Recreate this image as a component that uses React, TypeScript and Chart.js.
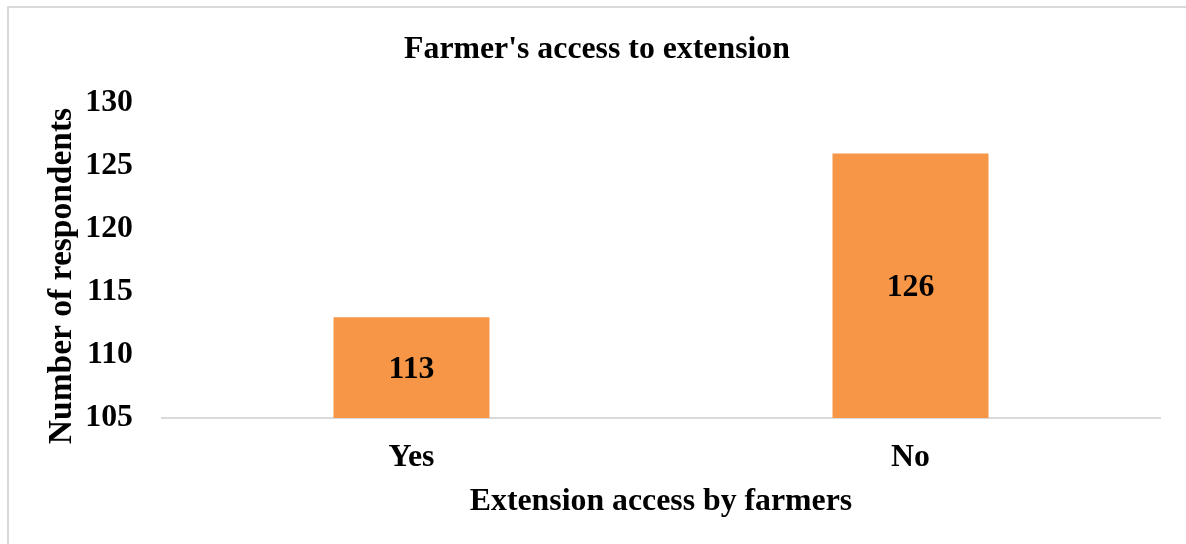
import React, { useEffect, useRef } from "react";
import { Chart, registerables } from "chart.js";

Chart.register(...registerables);

const categories: string[] = ["Yes", "No"];
const respondents: number[] = [113, 126];
const yTicksMin = 105;
const yTicksMax = 130;
const yTickStep = 5;
const chartTitle = "Farmer's access to extension";
const xAxisTitle = "Extension access by farmers";
const yAxisTitle = "Number of respondents";

const FONT = "'Liberation Serif', 'Times New Roman', serif";
const FS = 31.8;

const valueLabels = {
  id: "valueLabels",
  afterDraw(chart: any) {
    const ctx = chart.ctx;
    const meta = chart.getDatasetMeta(0);
    const yScale = chart.scales.y;
    const basePx = yScale.getPixelForValue(yTicksMin);
    ctx.save();
    ctx.font = `bold ${FS}px ${FONT}`;
    ctx.fillStyle = "#000000";
    ctx.textAlign = "center";
    ctx.textBaseline = "middle";
    meta.data.forEach((el: any, i: number) => {
      const v = respondents[i];
      const top = yScale.getPixelForValue(v);
      const x = el.x;
      ctx.fillText(String(v), x, (top + basePx) / 2 + 2);
    });
    ctx.restore();
  },
};

const yTitlePlugin = {
  id: "yTitlePlugin",
  afterDraw(chart: any) {
    const ctx = chart.ctx;
    ctx.save();
    ctx.translate(62, 276);
    ctx.rotate(-Math.PI / 2);
    ctx.font = `bold 33.5px ${FONT}`;
    ctx.fillStyle = "#000000";
    ctx.textAlign = "center";
    ctx.textBaseline = "middle";
    ctx.fillText(yAxisTitle, 0, 0);
    ctx.restore();
  },
};

export default function App() {
  const ref = useRef<HTMLCanvasElement | null>(null);
  useEffect(() => {
    if (!ref.current) return;
    const chart = new Chart(ref.current, {
      type: "bar",
      data: {
        labels: categories,
        datasets: [
          {
            data: respondents,
            backgroundColor: "#F79646",
            borderWidth: 0,
            barPercentage: 0.3126,
            categoryPercentage: 1,
          },
        ],
      },
      options: {
        animation: false,
        responsive: false,
        devicePixelRatio: 1,
        layout: { padding: { left: 34, right: 26, top: 0, bottom: 0 } },
        plugins: {
          legend: { display: false },
          tooltip: { enabled: false },
          title: {
            display: true,
            text: chartTitle,
            color: "#000",
            font: { family: FONT, size: FS, weight: "bold" },
            padding: { top: 31, bottom: 34 },
          },
        },
        scales: {
          x: {
            grid: { display: false, drawTicks: false },
            border: { display: true, color: "#d9d9d9", width: 2 },
            ticks: {
              color: "#000",
              font: { family: FONT, size: FS, weight: "bold" },
              padding: 21,
            },
            title: {
              display: true,
              text: xAxisTitle,
              color: "#000",
              font: { family: FONT, size: FS, weight: "bold" },
              padding: { top: 0, bottom: 23 },
            },
            afterFit(scale: any) {
              scale.height = 126;
            },
          },
          y: {
            min: yTicksMin,
            max: yTicksMax,
            grid: { display: false, drawTicks: false },
            border: { display: false },
            ticks: {
              stepSize: yTickStep,
              color: "#000",
              font: { family: FONT, size: FS, weight: "bold" },
              padding: 29,
            },
            afterFit(scale: any) {
              scale.width = 128;
            },
          },
        },
      },
      plugins: [valueLabels, yTitlePlugin],
    });
    return () => chart.destroy();
  }, []);

  return (
    <div>
      <div
        style={{
          position: "fixed",
          left: 7,
          top: 6,
          width: 1400,
          height: 800,
          borderLeft: "2px solid #d9d9d9",
          borderTop: "2px solid #d9d9d9",
          boxSizing: "border-box",
        }}
      />
      <canvas
        ref={ref}
        width={1186}
        height={544}
        style={{ position: "fixed", left: 0, top: 0, width: 1186, height: 544 }}
      />
    </div>
  );
}
